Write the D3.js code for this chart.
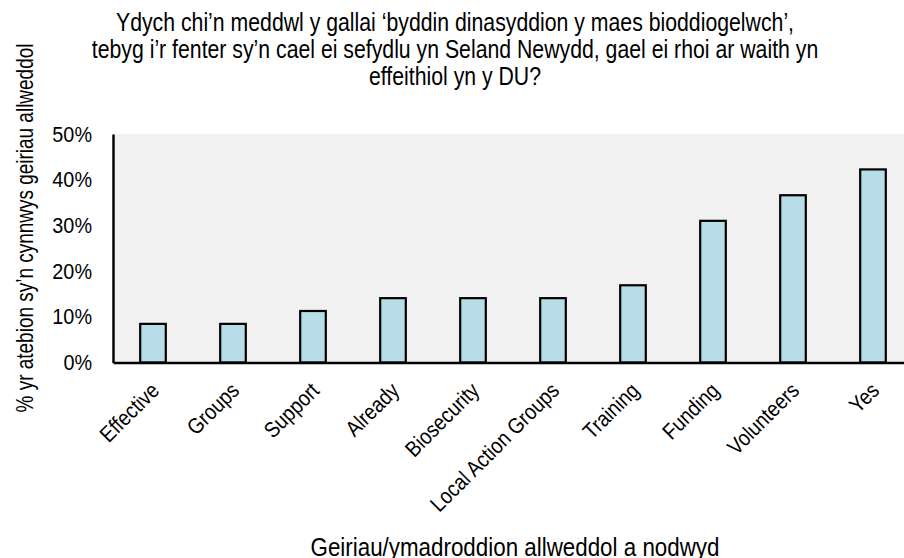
<!DOCTYPE html>
<html>
<head>
<meta charset="utf-8">
<script src="https://cdn.jsdelivr.net/npm/d3@7"></script>
<style>
  html, body { margin: 0; padding: 0; background: #fff; }
  svg { display: block; }
  text { font-family: "Liberation Sans", Arial, sans-serif; fill: #000; }
</style>
</head>
<body>
<svg id="chart" width="904" height="558"></svg>
<script>
const categories = ["Effective", "Groups", "Support", "Already", "Biosecurity",
  "Local Action Groups", "Training", "Funding", "Volunteers", "Yes"];
const values = [8.45, 8.45, 11.27, 14.08, 14.08, 14.08, 16.9, 31.0, 36.6, 42.25];
const yTicks = [0, 10, 20, 30, 40, 50];
const titleLines = [
  "Ydych chi’n meddwl y gallai ‘byddin dinasyddion y maes bioddiogelwch’,",
  "tebyg i’r fenter sy’n cael ei sefydlu yn Seland Newydd, gael ei rhoi ar waith yn",
  "effeithiol yn y DU?"
];
const yTitle = "% yr atebion sy’n cynnwys geiriau allweddol";
const xTitle = "Geiriau/ymadroddion allweddol a nodwyd";

(function () {
const svg = d3.select("#chart");
const W = 904;
const plotLeft = 113, plotTop = 134, plotBottom = 362.5, plotRightEnd = 913;
const regular = '"Liberation Sans", Arial, sans-serif';
const narrowFam = '"Liberation Sans Narrow", "Arial Narrow", "Liberation Sans", Arial, sans-serif';

// condense text: target width = regular width * k, drawn with a narrow face when available
function narrow(sel, k) {
  sel.each(function () {
    const t = d3.select(this).style("font-family", regular);
    const len = this.getComputedTextLength();
    t.style("font-family", narrowFam)
      .attr("textLength", len * k).attr("lengthAdjust", "spacingAndGlyphs");
  });
}

const x = d3.scaleBand().domain(categories).range([plotLeft, plotRightEnd])
  .paddingInner(0.68).paddingOuter(0.34);
const y = d3.scaleLinear().domain([0, 50]).range([plotBottom, plotTop]);

svg.append("rect").attr("x", plotLeft).attr("y", plotTop)
  .attr("width", W - plotLeft).attr("height", plotBottom - plotTop).attr("fill", "#f1f1f1");

svg.append("g").selectAll("rect").data(values).join("rect")
  .attr("x", (d, i) => x(categories[i]))
  .attr("y", d => y(d))
  .attr("width", x.bandwidth())
  .attr("height", d => y(0) - y(d))
  .attr("fill", "#b7dde8")
  .attr("stroke", "#000")
  .attr("stroke-width", 2.2);

const yAxis = svg.append("g").attr("transform", `translate(${plotLeft},0)`)
  .call(d3.axisLeft(y).tickValues(yTicks).tickFormat(d => d + "%").tickSize(0).tickPadding(21));
yAxis.select(".domain").attr("stroke", "#000").attr("stroke-width", 2.5);
yAxis.selectAll("text").style("font-size", "22px").call(narrow, 0.9);

const xAxis = svg.append("g").attr("transform", `translate(0,${plotBottom})`)
  .call(d3.axisBottom(x).tickSize(0).tickFormat(d => d));
xAxis.select(".domain").attr("stroke", "#000").attr("stroke-width", 2.5);
xAxis.selectAll("text")
  .style("font-size", "22px")
  .attr("text-anchor", "end")
  .attr("dy", "0.35em").attr("y", 0)
  .attr("transform", "translate(2,24) rotate(-45)")
  .call(narrow, 0.87);

svg.append("g").selectAll("text").data(titleLines).join("text")
  .attr("x", 455).attr("y", (d, i) => 31 + i * 27)
  .attr("text-anchor", "middle")
  .style("font-size", "25px")
  .text(d => d)
  .call(narrow, 0.85);

svg.append("text")
  .attr("transform", "translate(33,228) rotate(-90)")
  .attr("text-anchor", "middle")
  .style("font-size", "24px")
  .text(yTitle)
  .call(narrow, 0.79);

svg.append("text")
  .attr("x", 515).attr("y", 556)
  .attr("text-anchor", "middle")
  .style("font-size", "26px")
  .text(xTitle)
  .call(narrow, 0.86);
})();
</script>
</body>
</html>
